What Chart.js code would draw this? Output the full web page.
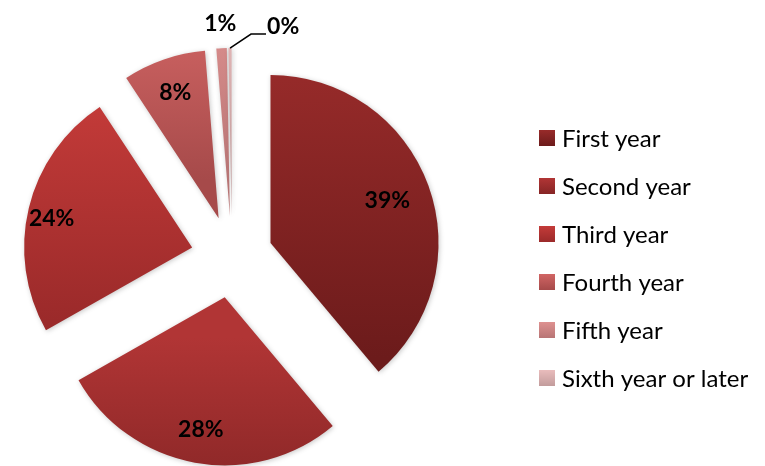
<!DOCTYPE html>
<html>
<head>
<meta charset="utf-8">
<script src="https://cdn.jsdelivr.net/npm/chart.js@4"></script>
<style>
  html, body { margin: 0; padding: 0; background: #fff; }
  #wrap { width: 765px; height: 466px; position: relative; }
</style>
</head>
<body>
<div id="wrap"><canvas id="yearChart"></canvas></div>
<script>
// data (percent of students)
const categories = ["First year", "Second year", "Third year", "Fourth year", "Fifth year", "Sixth year or later"];
const shares = [39, 28, 24, 8, 1, 0.3];

// gradient colours per slice, top -> bottom
const topColors = ["#982b2a", "#b13535", "#c43b39", "#d16564", "#de9190", "#e9bcbc"];
const bottomColors = ["#6c1b1b", "#862525", "#9b2a2a", "#a64a4a", "#b87575", "#c29c9c"];

const EXPLODE = 41;
const labelRadius = [0.74, 0.8, 0.86, 0.79, 1.15, 1.0];
const LABEL_FONT = "bold 23px Lato";
const LEGEND_FONT = "24px Lato";

function sliceGradient(ctx, arc, i, dy) {
  const ys = [arc.y];
  for (let k = 0; k <= 24; k++) {
    const a = arc.startAngle + (arc.endAngle - arc.startAngle) * k / 24;
    ys.push(arc.y + Math.sin(a) * arc.outerRadius);
  }
  const g = ctx.createLinearGradient(0, Math.min(...ys) + dy, 0, Math.max(...ys) + dy);
  g.addColorStop(0, topColors[i]);
  g.addColorStop(1, bottomColors[i]);
  return g;
}

// draws the pie's own arc elements, each pushed out from the centre
const explodePlugin = {
  id: "explode",
  beforeDatasetDraw(chart, args) {
    const ctx = chart.ctx;
    args.meta.data.forEach((arc, i) => {
      const mid = (arc.startAngle + arc.endAngle) / 2;
      const dx = Math.cos(mid) * EXPLODE;
      const dy = Math.sin(mid) * EXPLODE;
      const view = Object.create(arc);
      view.options = Object.assign({}, arc.options, { backgroundColor: sliceGradient(ctx, arc, i, dy) });
      ctx.save();
      ctx.shadowColor = "rgba(0,0,0,0.22)";
      ctx.shadowBlur = 5;
      ctx.shadowOffsetX = 1;
      ctx.shadowOffsetY = 1;
      ctx.translate(dx, dy);
      view.draw(ctx);
      ctx.restore();
    });
    return false;
  },
  afterDatasetsDraw(chart) {
    const ctx = chart.ctx;
    const arcs = chart.getDatasetMeta(0).data;
    ctx.save();
    ctx.font = LABEL_FONT;
    ctx.fillStyle = "#000";
    ctx.textBaseline = "middle";
    arcs.forEach((arc, i) => {
      const mid = (arc.startAngle + arc.endAngle) / 2;
      const text = Math.round(shares[i]) + "%";
      const d = EXPLODE + arc.outerRadius * labelRadius[i];
      if (i === arcs.length - 1) {
        // tiny slice: label off to the side with a leader line
        const tx = arc.x + Math.cos(mid) * d;
        const ty = arc.y + Math.sin(mid) * d;
        ctx.strokeStyle = "#000";
        ctx.lineWidth = 1.5;
        ctx.beginPath();
        ctx.moveTo(tx, ty);
        ctx.lineTo(tx + 21, ty - 14);
        ctx.lineTo(tx + 36, ty - 14);
        ctx.stroke();
        ctx.textAlign = "left";
        ctx.fillText(text, tx + 37, ty - 21);
      } else {
        ctx.textAlign = "center";
        // Excel nudges the left-hand labels a little below the bisector
        const nudge = i === 2 ? 5 : 0;
        ctx.fillText(text, arc.x + Math.cos(mid) * d, arc.y + Math.sin(mid) * d + nudge);
      }
    });
    ctx.restore();
  },
  afterDraw(chart) {
    const ctx = chart.ctx;
    ctx.save();
    ctx.font = LEGEND_FONT;
    ctx.textBaseline = "middle";
    ctx.textAlign = "left";
    chart.data.labels.forEach((label, i) => {
      const cy = 138 + i * 48;
      const g = ctx.createLinearGradient(0, cy - 8, 0, cy + 8);
      g.addColorStop(0, topColors[i]);
      g.addColorStop(1, bottomColors[i]);
      ctx.fillStyle = g;
      ctx.fillRect(539, cy - 8, 16, 16);
      ctx.fillStyle = "#000";
      ctx.fillText(label, 562, cy + 1);
    });
    ctx.restore();
  }
};

new Chart(document.getElementById("yearChart"), {
  type: "pie",
  data: {
    labels: categories,
    datasets: [{
      data: shares,
      backgroundColor: topColors,
      borderWidth: 0,
      radius: 168
    }]
  },
  options: {
    responsive: true,
    maintainAspectRatio: false,
    animation: false,
    layout: { padding: { top: 48, right: 301, bottom: 0, left: 0 } },
    plugins: {
      legend: { display: false },
      tooltip: { enabled: false }
    }
  },
  plugins: [explodePlugin]
});
</script>
</body>
</html>
